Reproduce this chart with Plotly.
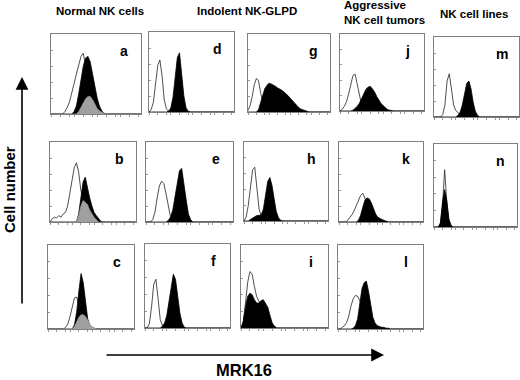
import plotly.graph_objects as go

# ---------------- data (histogram heights per channel, % of panel height) ----------------
N_CHANNELS = 40
channels = list(range(N_CHANNELS))

panel_ids = ["a", "b", "c", "d", "e", "f", "g", "h", "i", "j", "k", "l", "m", "n"]
col_headers = ["Normal NK cells", "Indolent NK-GLPD", "Aggressive<br>NK cell tumors", "NK cell lines"]
x_axis_title = "MRK16"
y_axis_title = "Cell number"

a_open = [0,0,0,0,0,0,3,8,15,25,38,50,62,72,76,60,45,25,12,5,2]
a_pos  = [0,0,0,0,0,0,0,0,0,0,3,10,25,45,60,70,72,65,50,35,20,10,4,1]
a_grey = [0,0,0,0,0,0,0,0,0,0,0,0,3,8,14,19,22,22,18,12,7,4,2,1]

b_open = [0,4,6,5,8,6,10,12,20,35,55,68,74,62,40,25,12,5,2]
b_pos  = [0,0,0,0,0,0,0,0,0,0,0,0,0,10,30,50,56,42,30,20,12,8,4,1]
b_grey = [0,0,0,0,0,0,0,0,0,0,0,0,0,8,20,27,25,22,15,10,6,3]

c_open = [0,0,0,0,0,0,0,0,2,6,15,28,37,38,30,20,10,4,1]
c_pos  = [0,0,0,0,0,0,0,0,0,0,0,0,5,20,45,66,55,30,12,4,1]
c_grey = [0,0,0,0,0,0,0,0,0,0,0,0,3,8,14,17,17,15,10,6,3,1]

d_open = [0,3,12,35,58,65,45,15,4,1]
d_pos  = [0,0,0,0,0,0,0,0,0,1,5,18,42,68,74,50,20,5,1]

e_open = [0,0,0,3,12,30,45,51,48,35,18,6,2]
e_pos  = [0,0,0,0,0,0,0,0,0,0,2,6,15,30,50,64,67,50,28,10,3]

f_open = [0,0,5,25,52,58,35,10,3,1]
f_pos  = [0,0,0,0,0,0,0,0,2,6,15,32,52,64,58,38,18,6,1]

g_open = [2,8,20,35,43,40,25,12,5,2]
g_pos  = [0,0,0,0,0,3,12,22,30,34,37,36,35,33,31,30,28,26,24,21,18,15,12,8,6,4,3,1]

h_open = [0,5,20,45,65,68,40,15,6,3,2]
h_pos  = [0,0,0,2,4,6,7,7,8,15,32,50,55,45,28,12,4,1]

i_open = [0,6,30,55,68,65,50,38,32,30,28,22,14,8,3,1]
i_pos  = [0,8,25,38,42,40,34,30,30,33,34,30,25,15,6,2]

j_open = [0,2,6,12,22,35,46,48,35,18,8,4,2,1]
j_pos  = [0,0,0,0,0,0,1,3,6,10,16,22,28,31,32,29,25,19,14,10,7,4,2,1]

k_open = [0,0,0,0,2,5,9,14,20,27,33,36,30,18,8,3]
k_pos  = [0,0,0,0,0,0,0,0,0,2,8,18,27,30,29,24,16,10,6,4,3,2,1]

l_open = [0,0,2,4,8,16,28,36,40,39,34,25,15,8,4,2]
l_pos  = [0,0,0,0,0,0,0,1,4,12,30,48,55,57,45,28,14,7,4,3,2,2,1,1]

m_open = [0,0,0,0,3,15,45,54,35,15,8,5,3,2]
m_pos  = [0,0,0,0,0,0,0,0,0,0,0,2,6,15,30,42,45,35,18,7,2]

n_open = [0,0,0,3,25,69,30,5,1]
n_pos  = [0,0,0,5,30,45,32,10,2]

series = {
    "a": (a_open, a_pos, a_grey), "b": (b_open, b_pos, b_grey), "c": (c_open, c_pos, c_grey),
    "d": (d_open, d_pos, None), "e": (e_open, e_pos, None), "f": (f_open, f_pos, None),
    "g": (g_open, g_pos, None), "h": (h_open, h_pos, None), "i": (i_open, i_pos, None),
    "j": (j_open, j_pos, None), "k": (k_open, k_pos, None), "l": (l_open, l_pos, None),
    "m": (m_open, m_pos, None), "n": (n_open, n_pos, None),
}

# ---------------- layout (pixel boxes: left, right, top, bottom) ----------------
W, H = 520, 380
boxes = {
    "a": (51, 141, 34, 114), "d": (149, 234, 32, 112), "g": (248, 330, 34, 112),
    "j": (340, 424, 34, 111), "m": (434, 519, 37, 117),
    "b": (50, 136, 142, 222), "e": (146, 233, 142, 222), "h": (244, 328, 142, 221),
    "k": (339, 423, 142, 222), "n": (434, 517, 144, 227),
    "c": (48, 134, 245, 329), "f": (145, 230, 244, 328), "i": (241, 328, 245, 328),
    "l": (338, 423, 245, 329),
}

def pad(v):
    return list(v) + [0] * (N_CHANNELS - len(v))

FONT = "Liberation Sans, Arial, sans-serif"
fig = go.Figure()
annotations = []
layout_axes = {}

for idx, pid in enumerate(panel_ids):
    n = idx + 1
    xa = "x" if n == 1 else f"x{n}"
    ya = "y" if n == 1 else f"y{n}"
    l, r, t, b = boxes[pid]
    openv, posv, greyv = series[pid]
    fig.add_trace(go.Scatter(x=channels, y=pad(openv), mode="lines", fill="tozeroy",
                             fillcolor="white", line=dict(color="#222", width=0.8),
                             xaxis=xa, yaxis=ya, showlegend=False, hoverinfo="skip"))
    fig.add_trace(go.Scatter(x=channels, y=pad(posv), mode="lines", fill="tozeroy",
                             fillcolor="black", line=dict(color="black", width=0.8),
                             xaxis=xa, yaxis=ya, showlegend=False, hoverinfo="skip"))
    if greyv is not None:
        fig.add_trace(go.Scatter(x=channels, y=pad(greyv), mode="lines", fill="tozeroy",
                                 fillcolor="#a0a0a0", line=dict(color="#a0a0a0", width=0.6),
                                 xaxis=xa, yaxis=ya, showlegend=False, hoverinfo="skip"))
    axcommon = dict(showline=True, mirror=True, linecolor="#808080", linewidth=1,
                    showgrid=False, zeroline=False, showticklabels=False, fixedrange=True)
    layout_axes["xaxis" if n == 1 else f"xaxis{n}"] = dict(
        domain=[l / W, r / W], range=[0, N_CHANNELS - 1], anchor=ya,
        ticks="outside", ticklen=2, tickcolor="#999", tickvals=[0, 4, 8, 10, 14, 18, 20, 24, 28, 30, 34, 38],
        **axcommon)
    layout_axes["yaxis" if n == 1 else f"yaxis{n}"] = dict(
        domain=[1 - b / H, 1 - t / H], range=[0, 100], anchor=xa,
        ticks="inside", ticklen=2, tickcolor="#999", tickvals=[20, 40, 60, 80],
        **axcommon)
    annotations.append(dict(x=(r - 17) / W, y=1 - (t + 17) / H, xref="paper", yref="paper",
                            text=f"<b>{pid}</b>", showarrow=False,
                            xanchor="center", yanchor="middle",
                            font=dict(family=FONT, size=14, color="black")))

# column headers
header_pos = [(100, 11, "center"), (247, 11, "center"), (342, 13, "left"), (474, 14, "center")]
for (hx, hy, al), txt in zip(header_pos, col_headers):
    annotations.append(dict(x=hx / W, y=1 - hy / H, xref="paper", yref="paper",
                            text=f"<b>{txt}</b>", showarrow=False, xanchor=al, yanchor="middle",
                            align="left",
                            font=dict(family=FONT, size=11.5, color="black")))

# axis titles
annotations.append(dict(x=244 / W, y=1 - 370 / H, xref="paper", yref="paper",
                        text=f"<b>{x_axis_title}</b>", showarrow=False,
                        xanchor="center", yanchor="middle", borderpad=0,
                        font=dict(family=FONT, size=16.5, color="black")))
annotations.append(dict(x=9 / W, y=1 - 190 / H, xref="paper", yref="paper",
                        text=f"<b>{y_axis_title}</b>", showarrow=False, textangle=-90,
                        xanchor="center", yanchor="middle",
                        font=dict(family=FONT, size=15, color="black")))
# arrows
annotations.append(dict(x=384 / W, y=1 - 355 / H, xref="paper", yref="paper", text="",
                        showarrow=True, ax=-279, ay=0, arrowhead=2, arrowsize=1.6,
                        arrowwidth=1.6, arrowcolor="black"))
annotations.append(dict(x=22 / W, y=1 - 77 / H, xref="paper", yref="paper", text="",
                        showarrow=True, ax=0, ay=228, arrowhead=2, arrowsize=1.6,
                        arrowwidth=1.6, arrowcolor="black"))

fig.update_layout(width=W, height=H, margin=dict(l=0, r=0, t=0, b=0),
                  paper_bgcolor="white", plot_bgcolor="white",
                  annotations=annotations, **layout_axes)

fig.write_html("out.html", config={"displayModeBar": False, "staticPlot": True},
               post_script="document.body.style.margin='0px';document.body.style.overflow='hidden';")
